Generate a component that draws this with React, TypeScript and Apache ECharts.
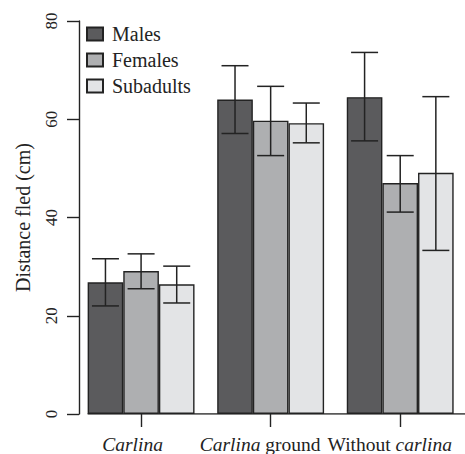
import React, { useEffect, useRef } from "react";
import * as echarts from "echarts";

const categories = ["Carlina", "Carlina ground", "Without carlina"];
const seriesNames = ["Males", "Females", "Subadults"];
const males = [26.8, 64.0, 64.5];
const malesLow = [22.0, 57.1, 55.6];
const malesHigh = [31.6, 70.9, 73.6];
const females = [29.1, 59.7, 47.0];
const femalesLow = [25.5, 52.6, 41.1];
const femalesHigh = [32.6, 66.7, 52.6];
const subadults = [26.4, 59.2, 49.1];
const subadultsLow = [22.6, 55.2, 33.3];
const subadultsHigh = [30.1, 63.3, 64.6];
const yTicks = [0, 20, 40, 60, 80];

const FONT = "Liberation Serif";
const colors = ["#5b5b5d", "#aeafb1", "#e3e4e6"];
const INK = "#232323";
const CAT_GAP = 0.175;

export default function App() {
  const ref = useRef<HTMLDivElement>(null);
  useEffect(() => {
    if (!ref.current) return;
    const chart = echarts.init(ref.current, undefined, { renderer: "svg" });
    const values = [males, females, subadults];
    const lows = [malesLow, femalesLow, subadultsLow];
    const highs = [malesHigh, femalesHigh, subadultsHigh];

    const barSeries = seriesNames.map((name, s) => ({
      name,
      type: "bar",
      data: values[s],
      barGap: "0%",
      barCategoryGap: CAT_GAP * 100 + "%",
      itemStyle: { color: colors[s], borderColor: INK, borderWidth: 1.4 },
      z: 2,
    }));

    const errSeries = seriesNames.map((name, s) => ({
      name: name + " error",
      type: "custom",
      z: 5,
      silent: true,
      data: categories.map((_, i) => [i, lows[s][i], highs[s][i]]),
      encode: { x: 0, y: [1, 2] },
      renderItem: (params: any, api: any) => {
        const idx = api.value(0);
        const lo = api.coord([idx, api.value(1)]);
        const hi = api.coord([idx, api.value(2)]);
        const band = api.size([1, 0])[0];
        const bw = (band * (1 - CAT_GAP)) / 3;
        const x = lo[0] + (s - 1) * bw;
        const cap = 13.5;
        const style = { stroke: INK, lineWidth: 1.5 };
        return {
          type: "group",
          children: [
            { type: "line", shape: { x1: x, y1: lo[1], x2: x, y2: hi[1] }, style },
            { type: "line", shape: { x1: x - cap, y1: hi[1], x2: x + cap, y2: hi[1] }, style },
            { type: "line", shape: { x1: x - cap, y1: lo[1], x2: x + cap, y2: lo[1] }, style },
          ],
        };
      },
    }));

    const firstEdge = -(1 - CAT_GAP) / 2;
    const LBL = 19.5;

    chart.setOption({
      animation: false,
      textStyle: { fontFamily: FONT },
      grid: { left: 76.3, top: 21, width: 400, bottom: 39.3 },
      legend: {
        data: seriesNames,
        orient: "vertical",
        left: 86,
        top: 24,
        itemWidth: 16,
        itemHeight: 13,
        itemGap: 6,
        padding: 0,
        icon: "rect",
        textStyle: { fontFamily: FONT, fontSize: 20, color: INK, padding: [0, 0, 0, 4] },
      },
      xAxis: [
        {
          type: "category",
          data: categories,
          axisLine: { show: false },
          axisTick: { show: true, alignWithLabel: true, length: 13, lineStyle: { color: INK, width: 1.4 } },
          axisLabel: {
            interval: 0,
            hideOverlap: false,
            margin: 20,
            fontFamily: FONT,
            fontSize: LBL,
            color: INK,
            formatter: (v: string) => {
              if (v === "Carlina") return "{i|Carlina}{s1|}";
              if (v === "Carlina ground") return "{i|Carlina}{n| ground}{s2|}";
              if (v === "Without carlina") return "{n|Without }{i|carlina}{s2|}";
              return v;
            },
            rich: {
              i: { fontStyle: "italic", fontFamily: FONT, fontSize: LBL, color: INK },
              n: { fontFamily: FONT, fontSize: LBL, color: INK },
              s1: { width: 17, fontSize: LBL },
              s2: { width: 21, fontSize: LBL },
            },
          },
          splitLine: { show: false },
        },
        { type: "value", min: -0.5, max: 2.5, show: false },
      ],
      yAxis: {
        type: "value",
        min: yTicks[0],
        max: yTicks[yTicks.length - 1],
        interval: 20,
        offset: -2.7,
        name: "Distance fled (cm)",
        nameLocation: "middle",
        nameGap: 46,
        nameRotate: 90,
        nameTextStyle: { fontFamily: FONT, fontSize: 20, color: INK },
        axisLine: { show: true, onZero: false, lineStyle: { color: INK, width: 1.4 } },
        axisTick: { show: true, length: 12, lineStyle: { color: INK, width: 1.4 } },
        axisLabel: { rotate: 90, margin: 19, fontFamily: FONT, fontSize: 17, color: INK },
        splitLine: { show: false },
      },
      series: [
        ...barSeries,
        ...errSeries,
        {
          name: "baseline",
          type: "line",
          xAxisIndex: 1,
          silent: true,
          symbol: "none",
          z: 4,
          data: [
            [firstEdge, 0],
            [2.5, 0],
          ],
          lineStyle: { color: INK, width: 1.4 },
        },
      ],
    });
    return () => chart.dispose();
  }, []);
  return <div ref={ref} style={{ width: 465, height: 454, position: "absolute", left: 0, top: 0 }} />;
}
